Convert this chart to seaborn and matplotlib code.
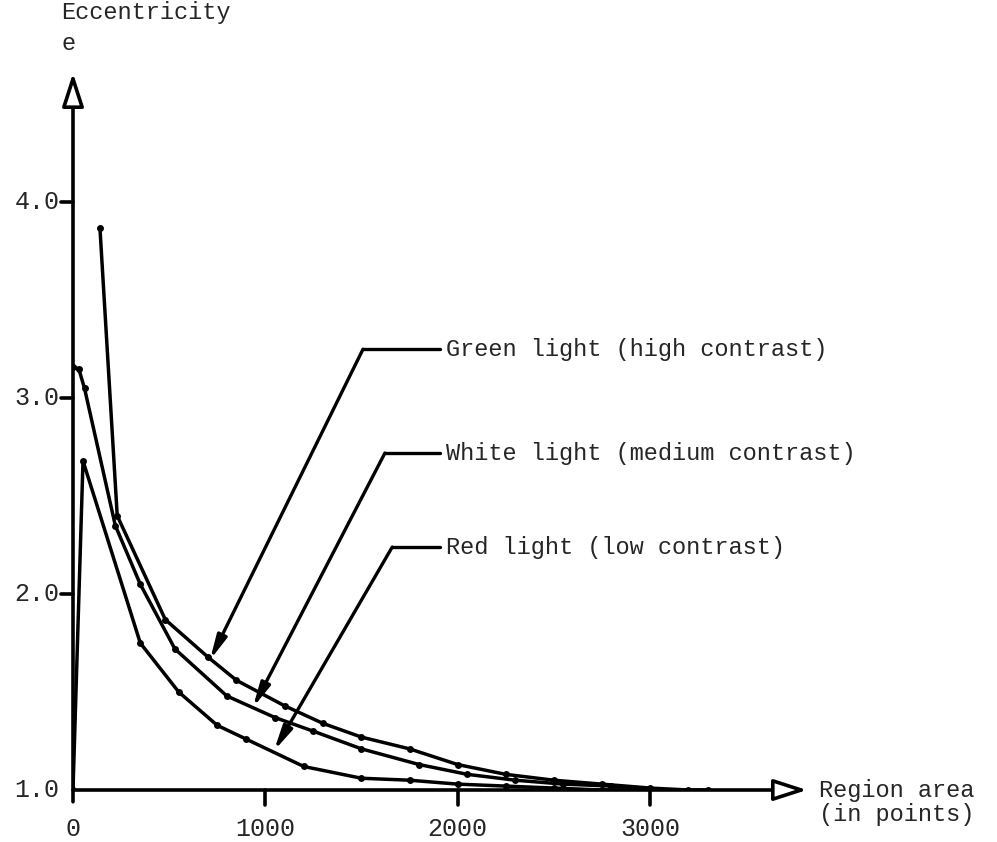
import numpy as np
import pandas as pd
import seaborn as sns
import matplotlib.pyplot as plt

# region area (in points) vs eccentricity e
green_x = [140, 230, 480, 700, 850, 1100, 1300, 1500, 1750, 2000, 2250, 2500, 2750, 3000, 3200]
green_e = [3.87, 2.40, 1.87, 1.68, 1.56, 1.43, 1.34, 1.27, 1.21, 1.13, 1.08, 1.05, 1.03, 1.01, 1.00]

white_x = [0, 30, 60, 220, 350, 530, 800, 1050, 1250, 1500, 1800, 2050, 2300, 2550, 2800, 3050, 3300]
white_e = [3.16, 3.15, 3.05, 2.35, 2.05, 1.72, 1.48, 1.37, 1.30, 1.21, 1.13, 1.08, 1.05, 1.03, 1.02, 1.00, 1.00]

red_x = [0, 52, 350, 550, 750, 900, 1200, 1500, 1750, 2000, 2250, 2500, 2750, 3000]
red_e = [1.00, 2.68, 1.75, 1.50, 1.33, 1.26, 1.12, 1.06, 1.05, 1.03, 1.02, 1.01, 1.00, 1.00]

x_ticks = [0, 1000, 2000, 3000]
y_ticks = [1.0, 2.0, 3.0, 4.0]

sns.set_theme(style="white")
plt.rcParams['font.family'] = ['Liberation Mono', 'DejaVu Sans Mono']

fig = plt.figure(figsize=(9.97, 8.42), dpi=100)
ax = fig.add_axes([73 / 997, 52 / 842, (807 - 73) / 997, (769 - 52) / 842])
ax.set_xlim(0, 3817)
ax.set_ylim(1.0, 4.66)

for xs, es in [(green_x, green_e), (white_x, white_e), (red_x, red_e)]:
    df = pd.DataFrame({'area': xs, 'e': es})
    sns.lineplot(data=df, x='area', y='e', ax=ax, color='black', lw=2.5,
                 marker='o', markersize=5, markeredgewidth=0, sort=False)

for s in ax.spines.values():
    s.set_visible(False)
ax.set_xlabel('')
ax.set_ylabel('')
ax.set_xticks([])
ax.set_yticks([])

# axes drawn as arrows with hollow heads
hollow = dict(arrowstyle='-|>,head_length=1.7,head_width=0.55', fc='white', ec='black', lw=2.6,
              shrinkA=0, shrinkB=0)
ax.annotate('', xy=(3817, 1.0), xytext=(0, 1.0), arrowprops=hollow, annotation_clip=False)
ax.annotate('', xy=(0, 4.66), xytext=(0, 0.94), arrowprops=hollow, annotation_clip=False)

# ticks
for t in x_ticks[1:]:
    ax.plot([t, t], [1.0, 0.925], color='black', lw=2.6, clip_on=False)
for t in x_ticks:
    ax.text(t, 0.86, f'{t}', ha='center', va='top', fontsize=18)
for t in y_ticks[1:]:
    ax.plot([-60, 0], [t, t], color='black', lw=2.6, clip_on=False)
for t in y_ticks:
    ax.text(-70, t, f'{t:.1f}', ha='right', va='center', fontsize=18)

ax.text(-60, 4.97, 'Eccentricity', ha='left', va='center', fontsize=17)
ax.text(-60, 4.81, 'e', ha='left', va='center', fontsize=17)
ax.text(3880, 1.0, 'Region area', ha='left', va='center', fontsize=17)
ax.text(3880, 0.875, '(in points)', ha='left', va='center', fontsize=17)

# leader lines to curves
leader = dict(arrowstyle='-|>,head_length=1.2,head_width=0.25', fc='black', ec='black', lw=2.4,
              shrinkA=0, shrinkB=0)
labels = [
    ('Green light (high contrast)', (712, 1.663), (1508, 3.25), 1910),
    ('White light (medium contrast)', (935, 1.42), (1622, 2.72), 1910),
    ('Red light (low contrast)', (1045, 1.20), (1660, 2.24), 1910),
]
for txt, tip, corner, end in labels:
    ax.plot([corner[0], end], [corner[1], corner[1]], color='black', lw=2.4)
    ax.annotate('', xy=tip, xytext=corner, arrowprops=leader)
    ax.text(end + 30, corner[1], txt, ha='left', va='center', fontsize=17)

fig.savefig('out.png', dpi=100)
